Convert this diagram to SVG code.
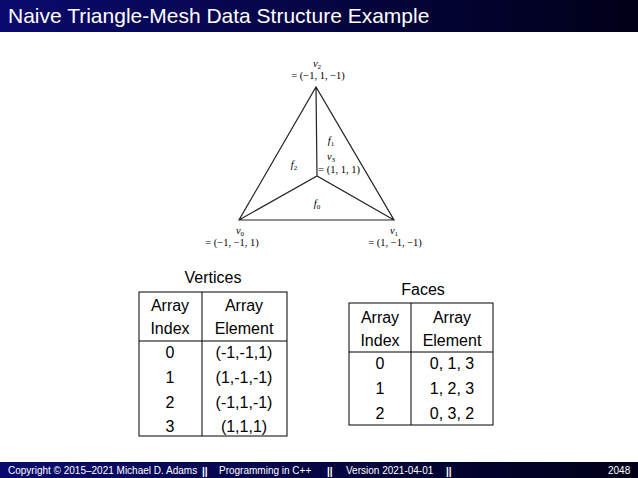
<svg xmlns="http://www.w3.org/2000/svg" width="638" height="478" viewBox="0 0 638 478">
<defs>
<linearGradient id="hd" x1="0" x2="1" y1="0" y2="0"><stop offset="0" stop-color="#0a0a6e"/><stop offset="1" stop-color="#000018"/></linearGradient>
<style>
.s{font-family:"Liberation Sans",Arial,sans-serif;fill:#000;font-size:16px;text-anchor:middle;dominant-baseline:central}
.m{font-family:"Liberation Serif","Times New Roman",serif;fill:#000;font-size:10.5px;text-anchor:middle}
.i{font-style:italic}
.b{font-size:7px;baseline-shift:-2px;font-style:normal}
.e{stroke:#222;stroke-width:1.2;fill:none}
.t{stroke:#000;stroke-width:1;fill:none}
.f{font-family:"Liberation Sans",Arial,sans-serif;fill:#fff;font-size:10px}
</style>
</defs>
<rect width="638" height="478" fill="#fff"/>
<rect width="638" height="32" fill="url(#hd)"/>
<text x="8" y="23" font-family="Liberation Sans,Arial,sans-serif" font-size="21" fill="#fff">Naive Triangle-Mesh Data Structure Example</text>
<g id="connectors">
<path class="e" d="M239 220 L394 220 L316 87 Z M316 87 L317 176 M239 220 L317 176 L394 220"/>
</g>
<g id="v2"><text class="m i" x="317" y="67">v<tspan class="b">2</tspan></text><text class="m" x="318" y="79">= (−1, 1, −1)</text></g>
<g id="v3"><text class="m i" x="331" y="160">v<tspan class="b">3</tspan></text><text class="m" x="339" y="173">= (1, 1, 1)</text></g>
<g id="v0"><text class="m i" x="240" y="234">v<tspan class="b">0</tspan></text><text class="m" x="232" y="246">= (−1, −1, 1)</text></g>
<g id="v1"><text class="m i" x="394" y="234">v<tspan class="b">1</tspan></text><text class="m" x="395" y="246">= (1, −1, −1)</text></g>
<g id="f0"><text class="m i" x="317" y="207">f<tspan class="b">0</tspan></text></g>
<g id="f1"><text class="m i" x="331" y="144">f<tspan class="b">1</tspan></text></g>
<g id="f2"><text class="m i" x="294" y="168">f<tspan class="b">2</tspan></text></g>
<g id="vertices">
<text class="s" x="213" y="277">Vertices</text>
<rect class="t" x="139" y="292" width="148" height="144"/>
<line class="t" x1="202" y1="292" x2="202" y2="436"/><line class="t" x1="139" y1="341" x2="287" y2="341"/>
<text class="s" x="170" y="305">Array</text><text class="s" x="244" y="305">Array</text>
<text class="s" x="170" y="328">Index</text><text class="s" x="244" y="328">Element</text>
<text class="s" x="170" y="352">0</text><text class="s" x="244" y="352">(-1,-1,1)</text>
<text class="s" x="170" y="377">1</text><text class="s" x="244" y="377">(1,-1,-1)</text>
<text class="s" x="170" y="402">2</text><text class="s" x="244" y="402">(-1,1,-1)</text>
<text class="s" x="170" y="426">3</text><text class="s" x="244" y="426">(1,1,1)</text>
</g>
<g id="faces">
<text class="s" x="423" y="289">Faces</text>
<rect class="t" x="349" y="303" width="144" height="122"/>
<line class="t" x1="411" y1="303" x2="411" y2="425"/><line class="t" x1="349" y1="352" x2="493" y2="352"/>
<text class="s" x="380" y="317">Array</text><text class="s" x="452" y="317">Array</text>
<text class="s" x="380" y="340">Index</text><text class="s" x="452" y="340">Element</text>
<text class="s" x="380" y="363">0</text><text class="s" x="452" y="363">0, 1, 3</text>
<text class="s" x="380" y="388">1</text><text class="s" x="452" y="388">1, 2, 3</text>
<text class="s" x="380" y="413">2</text><text class="s" x="452" y="413">0, 3, 2</text>
</g>
<rect y="462" width="638" height="16" fill="url(#hd)"/>
<text class="f" x="8" y="474">Copyright © 2015–2021 Michael D. Adams</text>
<text class="f" x="202" y="475" font-weight="bold" font-size="13">||</text>
<text class="f" x="219" y="474">Programming in C++</text>
<text class="f" x="327" y="475" font-weight="bold" font-size="13">||</text>
<text class="f" x="346" y="474">Version 2021-04-01</text>
<text class="f" x="446" y="475" font-weight="bold" font-size="13">||</text>
<text class="f" x="608" y="474">2048</text>
</svg>
